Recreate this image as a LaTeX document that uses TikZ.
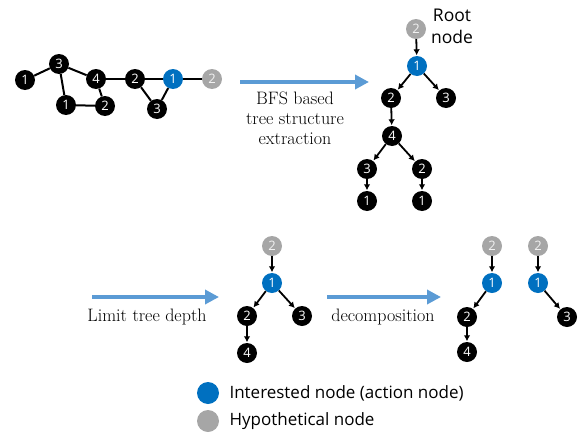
\documentclass[tikz,border=0pt]{standalone}
\usepackage{fontspec}
\setsansfont{Open Sans}
\usetikzlibrary{arrows.meta}
\definecolor{nblue}{HTML}{0070C0}
\definecolor{ngray}{HTML}{A6A6A6}
\definecolor{abblue}{HTML}{5B9BD5}
\begin{document}
\begin{tikzpicture}[x=1pt,y=-1pt,
  gn/.style={circle,fill=black,minimum size=20pt,inner sep=0pt,text=white,font=\sffamily\fontsize{13}{13}\selectfont},
  bn/.style={gn,fill=nblue},
  hn/.style={gn,fill=ngray,text=white!85!ngray},
  ge/.style={line width=2pt},
  te/.style={line width=1.8pt,-{Latex[length=6pt,width=6.5pt]},shorten >=0.5pt},
  bigarrow/.style={line width=4.5pt,abblue,-{Triangle[length=14pt,width=14pt]}},
  lab/.style={font=\fontsize{18}{20}\selectfont,align=center},
  leg/.style={font=\sffamily\fontsize{17}{18}\selectfont,anchor=west}]
\useasboundingbox (0,0) rectangle (584,434);
% graph
\node[gn] (g1) at (25,80) {1};
\node[gn] (g3) at (59,64) {3};
\node[gn] (g4) at (96,79) {4};
\node[gn] (g1b) at (66,105) {1};
\node[gn] (g2b) at (105,106) {2};
\node[gn] (g2) at (135,79) {2};
\node[bn] (gB) at (173,79) {1};
\node[hn] (gH) at (212,79) {2};
\node[gn] (g3b) at (157,109) {3};
\draw[ge] (g1) -- (g3);
\draw[ge] (g3) -- (g4);
\draw[ge] (g3) -- (g1b);
\draw[ge] (g1b) -- (g2b);
\draw[ge] (g4) -- (g2b);
\draw[ge] (g4) -- (g2);
\draw[ge] (g2) -- (gB);
\draw[ge] (gB) -- (gH);
\draw[ge] (g2) -- (g3b);
\draw[ge] (g3b) -- (gB);
% arrow 1
\coordinate (a1s) at (240,82);
\coordinate (a1e) at (369,82);
\draw[bigarrow] (a1s) -- (a1e);
\node[lab] (t1) at (295,118) {BFS based\\tree structure\\extraction};
% tree 1
\node[hn] (tH) at (416,29) {2};
\node[bn] (tB) at (417,66) {1};
\node[gn] (t2) at (391,98) {2};
\node[gn] (t3) at (446,98) {3};
\node[gn] (t4) at (392,136) {4};
\node[gn] (t3b) at (367,169) {3};
\node[gn] (t2b) at (422,169) {2};
\node[gn] (t1a) at (367,201) {1};
\node[gn] (t1b) at (422,201) {1};
\node[font=\sffamily\fontsize{17.5}{22}\selectfont,align=center] (root) at (452,26) {Root\\node};
\draw[te] (tH) -- (tB);
\draw[te] (tB) -- (t2);
\draw[te] (tB) -- (t3);
\draw[te] (t2) -- (t4);
\draw[te] (t4) -- (t3b);
\draw[te] (t4) -- (t2b);
\draw[te] (t3b) -- (t1a);
\draw[te] (t2b) -- (t1b);
% arrow 2
\coordinate (a2s) at (92,297);
\coordinate (a2e) at (219,297);
\draw[bigarrow] (a2s) -- (a2e);
\node[lab] (t2l) at (147,317) {Limit tree depth};
% tree 2
\node[hn] (uH) at (272,246) {2};
\node[bn] (uB) at (272,283) {1};
\node[gn] (u2) at (247,316) {2};
\node[gn] (u3) at (302,316) {3};
\node[gn] (u4) at (247,353) {4};
\draw[te] (uH) -- (uB);
\draw[te] (uB) -- (u2);
\draw[te] (uB) -- (u3);
\draw[te] (u2) -- (u4);
% arrow 3
\coordinate (a3s) at (327,297);
\coordinate (a3e) at (441,297);
\draw[bigarrow] (a3s) -- (a3e);
\node[lab] (t3l) at (383,317) {decomposition};
% tree 3
\node[hn] (vH) at (492,246) {2};
\node[bn] (vB) at (492,283) {1};
\node[gn] (v2) at (467,317) {2};
\node[gn] (v4) at (467,352) {4};
\draw[te] (vH) -- (vB);
\draw[te] (vB) -- (v2);
\draw[te] (v2) -- (v4);
% tree 4
\node[hn] (wH) at (538,246) {2};
\node[bn] (wB) at (538,283) {1};
\node[gn] (w3) at (567,317) {3};
\draw[te] (wH) -- (wB);
\draw[te] (wB) -- (w3);
% legend
\node[circle,fill=nblue,minimum size=22pt,inner sep=0pt] (lb) at (208,393) {};
\node[circle,fill=ngray,minimum size=22pt,inner sep=0pt] (lg) at (208,421) {};
\node[leg] (lbt) at (226,393) {Interested node (action node)};
\node[leg] (lgt) at (226,421) {Hypothetical node};
\end{tikzpicture}
\end{document}
